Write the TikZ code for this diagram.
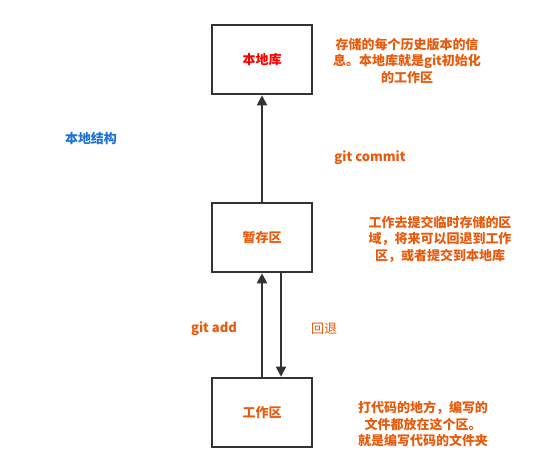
\documentclass[tikz,border=0pt]{standalone}
\usepackage{fontspec}
\setmainfont{Noto Sans CJK SC}
\usetikzlibrary{arrows.meta}
\definecolor{boxline}{HTML}{333333}
\definecolor{note}{HTML}{E85A0C}
\definecolor{title}{HTML}{1F72D6}
\definecolor{repo}{HTML}{FF0000}
\begin{document}
\begin{tikzpicture}[x=1pt,y=-1pt,
  stagebox/.style={draw=boxline,line width=2.6pt,fill=white,minimum width=100pt,minimum height=69pt,inner sep=0pt},
  lbl/.style={font=\fontsize{13}{16.5}\selectfont\bfseries,text=note,align=center},
  flow/.style={draw=boxline,line width=2pt,-{Triangle[length=10pt,width=10pt]}}]
\useasboundingbox[fill=white] (0,0) rectangle (542,473);
\node[stagebox] (repo) at (262,59.5) {};
\node[stagebox] (stage) at (262,237.5) {};
\node[stagebox] (work) at (262,412.5) {};
\node[lbl,text=repo] at (repo.center) {本地库};
\node[lbl] at (stage.center) {暂存区};
\node[lbl] at (work.center) {工作区};
% arrows between the stages
\draw[flow] (work.north) -- (stage.south);
\draw[flow] (stage.north) -- (repo.south);
\draw[flow] ([xshift=19pt]stage.south) -- ([xshift=19pt]work.north);
% side notes
\node[lbl,text=title] (struct) at (91,139) {本地结构};
\node[lbl] (commit) at (370,158) {git commit};
\node[lbl] (add) at (214,329) {git add};
\node[lbl,font=\fontsize{13}{16.5}\selectfont] (back) at (324,329) {回退};
\node[lbl] (repoNote) at (407,61) {存储的每个历史版本的信\\息。本地库就是git初始化\\的工作区};
\node[lbl] (stageNote) at (440,239) {工作去提交临时存储的区\\域，将来可以回退到工作\\区，或者提交到本地库};
\node[lbl] (workNote) at (423,424) {打代码的地方，编写的\\文件都放在这个区。\\就是编写代码的文件夹};
\end{tikzpicture}
\end{document}
